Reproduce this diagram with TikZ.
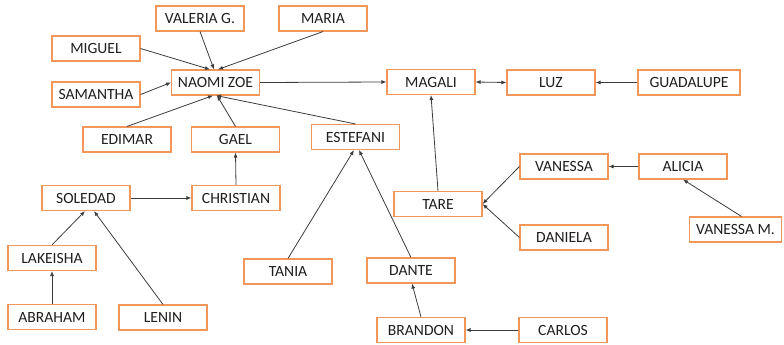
\documentclass[tikz,border=0pt]{standalone}
\usepackage{fontspec}
\setmainfont{Carlito}
\usetikzlibrary{arrows.meta}
\definecolor{boxorange}{RGB}{242,150,90}
\definecolor{linkgray}{RGB}{60,60,60}
\tikzset{
  person/.style={draw=boxorange, line width=1.1pt, fill=white, minimum width=88pt, minimum height=25pt, inner sep=0pt, font=\fontsize{15.6}{17}\selectfont, text=black!88},
  link/.style={draw=linkgray, line width=0.8pt, -{Latex[length=5pt,width=4pt]}},
  dlink/.style={draw=linkgray, line width=0.8pt, {Latex[length=5pt,width=4pt]}-{Latex[length=5pt,width=4pt]}}
}
\begin{document}
\begin{tikzpicture}[x=1pt,y=-1pt]
\useasboundingbox (0,0) rectangle (784,345);
\node[person] (valeria) at (200,18.5) {VALERIA G.};
\node[person] (maria) at (323,18.5) {MARIA};
\node[person] (miguel) at (96,48.5) {MIGUEL};
\node[person] (naomi) at (215.5,82.5) {NAOMI ZOE};
\node[person] (samantha) at (96,94.5) {SAMANTHA};
\node[person] (edimar) at (127,139.5) {EDIMAR};
\node[person] (gael) at (235.5,139.5) {GAEL};
\node[person] (estefani) at (355.5,137) {ESTEFANI};
\node[person] (magali) at (431,82) {MAGALI};
\node[person] (luz) at (551,82.5) {LUZ};
\node[person, minimum width=102pt] (guadalupe) at (689,82.5) {GUADALUPE};
\node[person] (vanessa) at (564,166.5) {VANESSA};
\node[person] (alicia) at (683,166.5) {ALICIA};
\node[person] (tare) at (438,204) {TARE};
\node[person] (daniela) at (564,237.5) {DANIELA};
\node[person, minimum width=92pt] (vanessam) at (735.5,229.5) {VANESSA M.};
\node[person] (soledad) at (86,198) {SOLEDAD};
\node[person] (christian) at (236,198) {CHRISTIAN};
\node[person] (lakeisha) at (52,258) {LAKEISHA};
\node[person] (abraham) at (52,317) {ABRAHAM};
\node[person] (lenin) at (163,317.5) {LENIN};
\node[person] (tania) at (288,271.5) {TANIA};
\node[person] (dante) at (411,270.5) {DANTE};
\node[person] (brandon) at (421,330) {BRANDON};
\node[person] (carlos) at (563,330) {CARLOS};

\draw[link] (miguel.east) -- ([xshift=-5.5pt]naomi.north);
\draw[link] (valeria.south) -- ([xshift=-1.5pt]naomi.north);
\draw[link] (maria.south) -- ([xshift=2.5pt]naomi.north);
\draw[link] (samantha.east) -- (naomi.west);
\draw[link] (edimar.north) -- ([xshift=-2.5pt]naomi.south);
\draw[link] (gael.north) -- ([xshift=1.5pt]naomi.south);
\draw[link] (estefani.north) -- ([xshift=0.5pt]naomi.south);
\draw[link] (naomi.east) -- (magali.west);
\draw[dlink] (magali.east) -- (luz.west);
\draw[link] (guadalupe.west) -- (luz.east);
\draw[link] (tare.north) -- (magali.south);
\draw[link] (vanessa.west) -- (tare.east);
\draw[link] (daniela.west) -- (tare.east);
\draw[link] (alicia.west) -- (vanessa.east);
\draw[link] ([xshift=6pt]vanessam.north) -- (alicia.south);
\draw[link] (christian.north) -- (gael.south);
\draw[link] (soledad.east) -- (christian.west);
\draw[link] (lakeisha.north) -- ([xshift=-1pt]soledad.south);
\draw[link] (abraham.north) -- (lakeisha.south);
\draw[link] (lenin.north) -- ([xshift=8pt]soledad.south);
\draw[link] (tania.north) -- ([xshift=-1.5pt]estefani.south);
\draw[link] (dante.north) -- ([xshift=3.5pt]estefani.south);
\draw[link] (brandon.north) -- ([xshift=1pt]dante.south);
\draw[link] (carlos.west) -- (brandon.east);
\end{tikzpicture}
\end{document}
